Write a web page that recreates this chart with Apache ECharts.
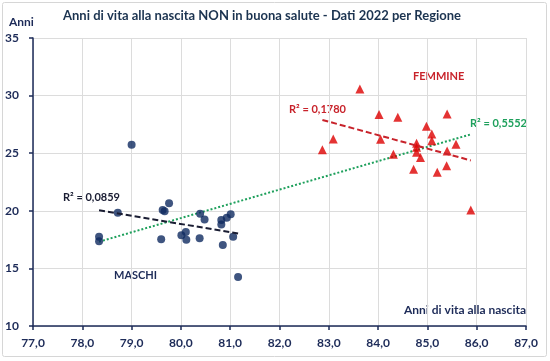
<!DOCTYPE html>
<html>
<head>
<meta charset="utf-8">
<script src="https://cdn.jsdelivr.net/npm/echarts@6/dist/echarts.min.js"></script>
<style>html,body{margin:0;padding:0;background:#fff}#c{width:550px;height:361px}</style>
</head>
<body>
<div id="c"></div>
<script>
// Maschi: [anni di vita alla nascita, anni NON in buona salute]
var maschiX = [78.34, 78.34, 78.72, 79.00, 79.76, 79.63, 79.67, 79.60, 80.01, 80.10, 80.11, 80.38, 80.39, 80.48, 80.82, 80.82, 80.93, 81.01, 80.85, 81.06, 81.16];
var maschiY = [17.74, 17.36, 19.82, 25.73, 20.66, 20.06, 19.97, 17.54, 17.88, 18.15, 17.48, 17.62, 19.74, 19.25, 19.21, 18.81, 19.39, 19.71, 17.04, 17.74, 14.26];
// Femmine
var femmineX = [83.63, 84.02, 84.40, 85.40, 84.98, 85.09, 85.09, 83.09, 82.87, 84.05, 84.78, 84.78, 85.58, 85.40, 84.31, 84.78, 84.86, 84.72, 85.20, 85.39, 85.88];
var femmineY = [30.58, 28.35, 28.12, 28.41, 27.34, 26.67, 26.09, 26.24, 25.31, 26.21, 25.87, 25.52, 25.78, 25.20, 24.91, 25.09, 24.62, 23.61, 23.35, 23.90, 20.08];

var r2Labels = ['R² = 0,0859', 'R² = 0,1780', 'R² = 0,5552'];
var groupLabels = ['MASCHI', 'FEMMINE'];

function zip(xs, ys){ return xs.map(function(x,i){return [x, ys[i]];}); }
function fit(xs, ys){
  var n = xs.length, sx=0, sy=0, sxx=0, sxy=0;
  for (var i=0;i<n;i++){ sx+=xs[i]; sy+=ys[i]; sxx+=xs[i]*xs[i]; sxy+=xs[i]*ys[i]; }
  var b = (n*sxy - sx*sy)/(n*sxx - sx*sx), a = (sy - b*sx)/n;
  var mn = Math.min.apply(null, xs), mx = Math.max.apply(null, xs);
  return [[mn, a+b*mn],[mx, a+b*mx]];
}
var allX = maschiX.concat(femmineX), allY = maschiY.concat(femmineY);

var navy = '#1d2b58';
var font = 'Lato';
var chart = echarts.init(document.getElementById('c'));
chart.setOption({
  animation: false,
  grid: {left: 33, right: 24, top: 38, bottom: 35},
  xAxis: {
    type: 'value', min: 77, max: 87, interval: 1,
    axisLine: {lineStyle: {color: navy, width: 1.5}},
    axisTick: {show: true, length: 4, lineStyle: {color: navy, width: 1.5}},
    axisLabel: {color: navy, fontFamily: font, fontWeight: 'bold', fontSize: 12, margin: 11,
      formatter: function(v){ return v.toFixed(1).replace('.', ','); }},
    splitLine: {show: true, lineStyle: {color: '#dcdcdc', width: 1}}
  },
  yAxis: {
    type: 'value', min: 10, max: 35, interval: 5,
    axisLine: {show: true, lineStyle: {color: navy, width: 1.5}},
    axisTick: {show: true, length: 4, lineStyle: {color: navy, width: 1.5}},
    axisLabel: {color: navy, fontFamily: font, fontWeight: 'bold', fontSize: 12, margin: 14},
    splitLine: {show: true, lineStyle: {color: '#dcdcdc', width: 1}}
  },
  series: [
    {type: 'line', data: fit(allX, allY), symbol: 'none', z: 1,
      lineStyle: {color: '#1ea05c', width: 2, type: [2, 2]}},
    {type: 'scatter', data: zip(maschiX, maschiY), symbol: 'circle', symbolSize: 8, z: 2,
      itemStyle: {color: '#0f2a60'}},
    {type: 'scatter', data: zip(femmineX, femmineY), symbol: 'triangle', symbolSize: 9, z: 2,
      itemStyle: {color: '#dd0000'}},
    {type: 'line', data: fit(maschiX, maschiY), symbol: 'none', z: 3,
      lineStyle: {color: '#1a1d33', width: 2, type: [6, 3]}},
    {type: 'line', data: fit(femmineX, femmineY), symbol: 'none', z: 3,
      lineStyle: {color: '#c8232b', width: 2, type: [6, 3]}}
  ],
  graphic: [
    {type: 'rect', shape: {x: 2.5, y: 2.5, width: 544, height: 354, r: 2}, style: {fill: 'none', stroke: '#d6d6d6', lineWidth: 1}, silent: true},
    {type: 'text', left: 63, top: 9, style: {text: 'Anni di vita alla nascita NON in buona salute - Dati 2022 per Regione', font: 'bold 13px Lato', fill: '#1b3350'}},
    {type: 'text', left: 9, top: 16, style: {text: 'Anni', font: 'bold 12px Lato', fill: navy}},
    {type: 'text', right: 24, top: 304, style: {text: 'Anni di vita alla nascita', font: 'bold 12px Lato', fill: navy, textAlign: 'right'}},
    {type: 'text', left: 114, top: 270, style: {text: groupLabels[0], font: 'bold 11px Lato', fill: navy}},
    {type: 'text', left: 413, top: 71, style: {text: groupLabels[1], font: 'bold 11px Lato', fill: '#c8232b'}},
    {type: 'text', left: 63, top: 192, style: {text: r2Labels[0], font: 'bold 11px Lato', fill: '#1a1d33'}},
    {type: 'text', left: 289, top: 104, style: {text: r2Labels[1], font: 'bold 11px Lato', fill: '#c8232b'}},
    {type: 'text', left: 470, top: 118, style: {text: r2Labels[2], font: 'bold 11px Lato', fill: '#1ea05c'}}
  ]
});
</script>
</body>
</html>
